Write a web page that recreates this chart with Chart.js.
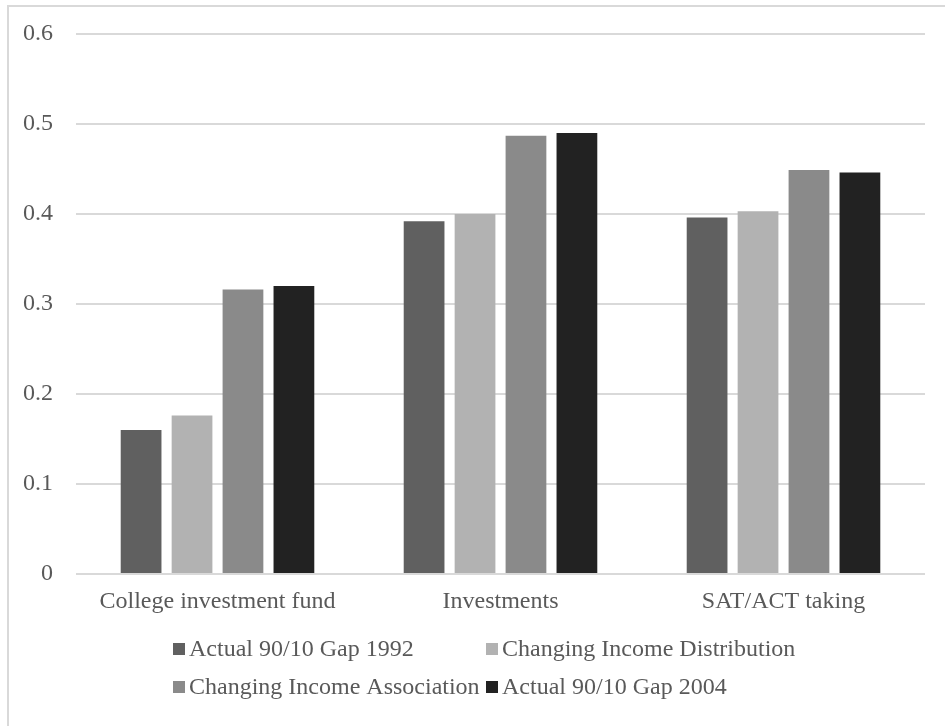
<!DOCTYPE html>
<html>
<head>
<meta charset="utf-8">
<title>90/10 Gap decomposition</title>
<script src="https://cdn.jsdelivr.net/npm/chart.js@4/dist/chart.umd.min.js"></script>
<style>
  html, body { margin: 0; padding: 0; background: #ffffff; overflow: hidden; }
  #wrap { position: relative; width: 945px; height: 726px; }
  #frame { position: absolute; left: 7px; top: 5px; width: 960px; height: 740px;
           border: 2px solid #d9d9d9; box-sizing: border-box; pointer-events: none; }
  canvas { position: absolute; left: 0; top: 0; }
</style>
</head>
<body>
<div id="wrap">
  <canvas id="chart" width="945" height="726"></canvas>
  <div id="frame"></div>
</div>
<script>
// Outcome categories along the x axis
const categories = ['College investment fund', 'Investments', 'SAT/ACT taking'];

// Series values (90/10 income gap)
const gap1992 = [0.160, 0.392, 0.396];
const incomeDistribution = [0.176, 0.400, 0.403];
const incomeAssociation = [0.316, 0.487, 0.449];
const gap2004 = [0.320, 0.490, 0.446];

// Series names and fills
const seriesNames = ['Actual 90/10 Gap 1992', 'Changing Income Distribution',
                     'Changing Income Association', 'Actual 90/10 Gap 2004'];
const seriesColors = ['#606060', '#b2b2b2', '#8a8a8a', '#222222'];

// Value axis ticks
const yTicks = [0, 0.1, 0.2, 0.3, 0.4, 0.5, 0.6];

const FONT = '"Liberation Serif", "Times New Roman", serif';
const TEXT = '#595959';

// Two-column legend drawn beneath the category labels
const gridLegend = {
  id: 'gridLegend',
  afterDraw(chart) {
    const ctx = chart.ctx;
    const cols = [173, 486];
    const rows = [649, 687];
    const box = 12;
    ctx.save();
    ctx.font = '24px ' + FONT;
    ctx.textBaseline = 'middle';
    ctx.textAlign = 'left';
    chart.data.datasets.forEach((ds, i) => {
      const x = cols[i % 2];
      const y = rows[Math.floor(i / 2)];
      ctx.fillStyle = ds.backgroundColor;
      ctx.fillRect(x, y - box / 2, box, box);
      ctx.fillStyle = TEXT;
      ctx.fillText(ds.label, x + box + 4, y + 1);
    });
    ctx.restore();
  }
};

const seriesValues = [gap1992, incomeDistribution, incomeAssociation, gap2004];

new Chart(document.getElementById('chart'), {
  type: 'bar',
  data: {
    labels: categories,
    datasets: seriesValues.map((vals, i) => ({
      label: seriesNames[i],
      data: vals,
      backgroundColor: seriesColors[i],
      borderWidth: 0,
      categoryPercentage: 0.72,
      barPercentage: 0.8
    }))
  },
  options: {
    responsive: false,
    animation: false,
    layout: { padding: { left: 0, right: 20, top: 34, bottom: 106 } },
    plugins: {
      legend: { display: false },
      tooltip: { enabled: false }
    },
    scales: {
      x: {
        grid: { display: false, drawTicks: false },
        border: { display: false },
        ticks: { color: TEXT, font: { family: FONT, size: 24 }, padding: 13, maxRotation: 0, autoSkip: false },
        afterFit(scale) { scale.height = 46; }
      },
      y: {
        min: 0,
        max: 0.6,
        afterBuildTicks(scale) { scale.ticks = yTicks.map(v => ({ value: v })); },
        grid: { color: '#d9d9d9', lineWidth: 2, drawTicks: true, tickLength: 23, tickColor: 'rgba(0,0,0,0)' },
        border: { display: false },
        ticks: {
          color: TEXT,
          font: { family: FONT, size: 24 },
          padding: 0,
          callback: v => String(Number(v.toFixed(1)))
        },
        afterFit(scale) { scale.width = 76; }
      }
    }
  },
  plugins: [gridLegend]
});
</script>
</body>
</html>
